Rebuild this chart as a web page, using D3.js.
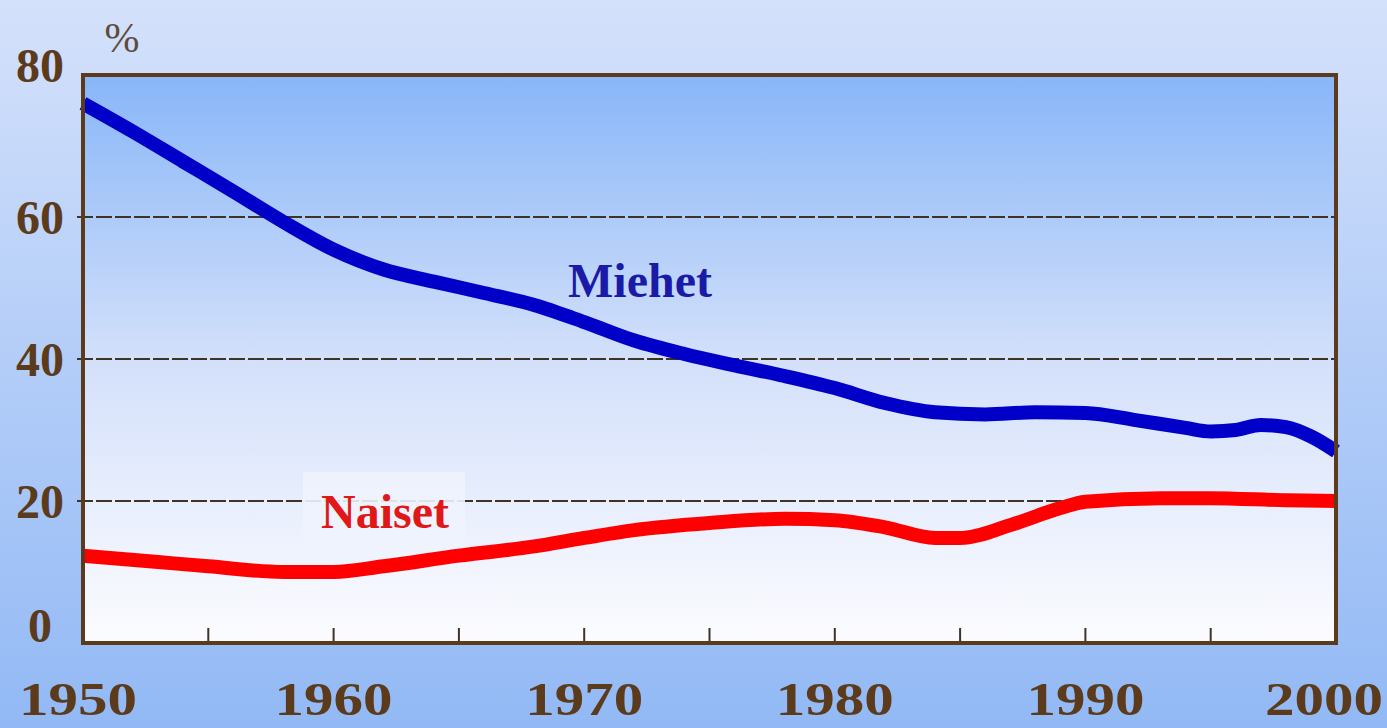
<!DOCTYPE html>
<html>
<head>
<meta charset="utf-8">
<script src="https://cdn.jsdelivr.net/npm/d3@7"></script>
<style>
  body { margin: 0; overflow: hidden; }
</style>
</head>
<body>
<svg id="chart"></svg>
<script>
// data -------------------------------------------------------------
let menYears   = [1950, 1952, 1954, 1956, 1958, 1960, 1962, 1964, 1966, 1968, 1970, 1972, 1974, 1976, 1978, 1980, 1982, 1984, 1986, 1988, 1990, 1992, 1994, 1995, 1996, 1997, 1998, 1999, 2000];
let menValues  = [76, 72, 67.8, 63.6, 59.3, 55.4, 52.6, 50.9, 49.3, 47.6, 45.2, 42.6, 40.7, 39.1, 37.6, 35.9, 33.8, 32.5, 32.2, 32.5, 32.4, 31.4, 30.3, 29.8, 30.0, 30.7, 30.4, 29.1, 27];
let womenYears  = [1950, 1953, 1955, 1958, 1960, 1962, 1965, 1968, 1970, 1972, 1975, 1978, 1980, 1982, 1984, 1985, 1987, 1989, 1990, 1993, 1995, 1998, 2000];
let womenValues = [12.3, 11.4, 10.8, 10.0, 10.0, 10.8, 12.3, 13.6, 14.8, 15.9, 16.9, 17.5, 17.3, 16.3, 14.8, 14.8, 16.6, 19.0, 19.9, 20.4, 20.4, 20.1, 20.0];
let yTicks = [0, 20, 40, 60, 80];
let gridValues = [20, 40, 60];
let xLabels = [1950, 1960, 1970, 1980, 1990, 2000];
let xMinorTicks = [1955, 1960, 1965, 1970, 1975, 1980, 1985, 1990, 1995];

// layout -----------------------------------------------------------
let width = 1387;
let height = 728;
let plot = {left: 83, right: 1336, top: 75, bottom: 643};
let brown = "#5b3b1c";
let serif = "Liberation Serif, serif";

let svg = d3.select("#chart").attr("width", width).attr("height", height);
let defs = svg.append("defs");

let outerGrad = defs.append("linearGradient").attr("id", "outerGrad")
    .attr("x1", 0).attr("y1", 0).attr("x2", 0).attr("y2", 1);
outerGrad.append("stop").attr("offset", "0%").attr("stop-color", "#d4e1fb");
outerGrad.append("stop").attr("offset", "100%").attr("stop-color", "#92b9f5");

let innerGrad = defs.append("linearGradient").attr("id", "innerGrad")
    .attr("x1", 0).attr("y1", 0).attr("x2", 0).attr("y2", 1);
innerGrad.append("stop").attr("offset", "0%").attr("stop-color", "#88b6f8");
innerGrad.append("stop").attr("offset", "50%").attr("stop-color", "#d3e0fa");
innerGrad.append("stop").attr("offset", "100%").attr("stop-color", "#fcfcff");

svg.append("rect").attr("width", width).attr("height", height).attr("fill", "url(#outerGrad)");
svg.append("rect")
    .attr("x", plot.left).attr("y", plot.top)
    .attr("width", plot.right - plot.left).attr("height", plot.bottom - plot.top)
    .attr("fill", "url(#innerGrad)");

let x = d3.scaleLinear().domain([1950, 2000]).range([plot.left, plot.right]);
let y = d3.scaleLinear().domain([0, 80]).range([plot.bottom, plot.top]);

// gridlines
svg.append("g").selectAll("line")
    .data(gridValues)
    .join("line")
    .attr("x1", plot.left - 6).attr("x2", plot.right)
    .attr("y1", d => y(d)).attr("y2", d => y(d))
    .attr("stroke", "#3e3326")
    .attr("stroke-width", 2)
    .attr("stroke-dasharray", "16,3");

// Naiset label background
svg.append("rect")
    .attr("x", 303).attr("y", 472).attr("width", 162).attr("height", 76)
    .attr("fill", "#eef3fd").attr("opacity", 0.9);

// lines
let line = d3.line().x(d => x(d[0])).y(d => y(d[1])).curve(d3.curveMonotoneX);

svg.append("path")
    .datum(d3.zip(womenYears, womenValues))
    .attr("d", line)
    .attr("fill", "none")
    .attr("stroke", "#ff0000")
    .attr("stroke-width", 14)
    .attr("stroke-linejoin", "round");

svg.append("path")
    .datum(d3.zip(menYears, menValues))
    .attr("d", line)
    .attr("fill", "none")
    .attr("stroke", "#0000c8")
    .attr("stroke-width", 14)
    .attr("stroke-linejoin", "round");

// small ticks on x axis
svg.append("g").selectAll("line")
    .data(xMinorTicks)
    .join("line")
    .attr("x1", d => x(d)).attr("x2", d => x(d))
    .attr("y1", plot.bottom).attr("y2", plot.bottom - 15)
    .attr("stroke", "#3e3326")
    .attr("stroke-width", 2);

// frame
svg.append("rect")
    .attr("x", plot.left).attr("y", plot.top)
    .attr("width", plot.right - plot.left).attr("height", plot.bottom - plot.top)
    .attr("fill", "none")
    .attr("stroke", brown)
    .attr("stroke-width", 4);

// y labels
svg.append("g").selectAll("text")
    .data(yTicks)
    .join("text")
    .attr("x", 40)
    .attr("y", d => y(d) + (d === 80 ? -10 : d === 0 ? -18 : 0))
    .attr("dy", "0.35em")
    .attr("text-anchor", "middle")
    .attr("font-family", serif)
    .attr("font-weight", "bold")
    .attr("font-size", 48)
    .attr("fill", brown)
    .text(d => d);

// x labels
svg.append("g").selectAll("text")
    .data(xLabels)
    .join("text")
    .attr("x", d => x(d) + (d === 1950 ? -5 : d === 2000 ? -12 : 0))
    .attr("y", 715)
    .attr("text-anchor", "middle")
    .attr("font-family", serif)
    .attr("font-weight", "bold")
    .attr("font-size", 46)
    .attr("textLength", 118)
    .attr("lengthAdjust", "spacingAndGlyphs")
    .attr("fill", brown)
    .text(d => d);

// unit
svg.append("text")
    .attr("x", 122).attr("y", 52)
    .attr("text-anchor", "middle")
    .attr("font-family", serif)
    .attr("font-size", 42)
    .attr("fill", "#5e4c3a")
    .text("%");

// series names
svg.append("text")
    .attr("x", 640).attr("y", 297)
    .attr("text-anchor", "middle")
    .attr("font-family", serif)
    .attr("font-weight", "bold")
    .attr("font-size", 48)
    .attr("fill", "#1a1aa6")
    .text("Miehet");

svg.append("text")
    .attr("x", 385).attr("y", 528)
    .attr("text-anchor", "middle")
    .attr("font-family", serif)
    .attr("font-weight", "bold")
    .attr("font-size", 48)
    .attr("fill", "#e01818")
    .text("Naiset");
</script>
</body>
</html>
